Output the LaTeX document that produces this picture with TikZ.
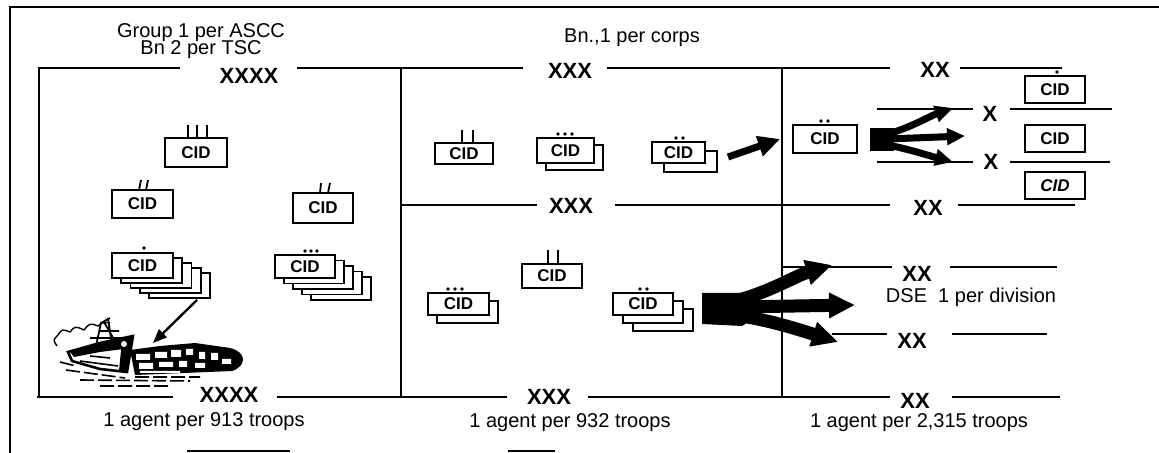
\documentclass[tikz,border=0pt]{standalone}
\usepackage{fontspec}
\setmainfont{Liberation Sans}
\usetikzlibrary{arrows.meta}
\newcommand\cidnode[6][]{%
  \node[cid,#1,minimum width={(#5-#3)*0.5pt},minimum height={(#6-#4)*0.5pt}] (#2) at ({(#3+#5)/2},{(#4+#6)/2}) {CID};}
\newcommand\cidstack[8]{%
  \foreach \k in {#6,...,1}{\draw[boxline,fill=white] ({#2+\k*#7},{#3+\k*#8}) rectangle ({#4+\k*#7},{#5+\k*#8});}
  \cidnode{#1}{#2}{#3}{#4}{#5}}
\begin{document}
\begin{tikzpicture}[x=0.5pt,y=-0.5pt,
  frame/.style={line width=1pt},
  boxline/.style={line width=0.9pt},
  cid/.style={draw,line width=0.9pt,fill=white,inner sep=0pt,font=\fontsize{8.5}{9}\selectfont\bfseries},
  echelon/.style={font=\fontsize{11}{12}\selectfont\bfseries,inner sep=0pt},
  lbl/.style={font=\fontsize{10}{11}\selectfont,inner sep=0pt},
  tick/.style={line width=0.9pt},
  dotmark/.style={fill=black},
  fanbig/.style={line width=6.5pt,-{Triangle[length=13pt,width=12pt]}},
  fansmall/.style={line width=3.5pt,-{Triangle[length=9pt,width=8pt]}},
  thinarrow/.style={line width=1.2pt,-{Triangle[length=7pt,width=5.5pt]}}]
\useasboundingbox (0,0) rectangle (1159,453);

% ---- frames ----
\draw[frame] (1159,7) -- (10,7) -- (10,453);
\draw[frame] (39,397) -- (39,68) -- (180,68);
\draw[frame] (297,68) -- (523,68);
\draw[frame] (607,68) -- (890,68);
\draw[frame] (960,68) -- (1062,68);
\draw[frame] (401,68) -- (401,397);
\draw[frame] (782,68) -- (782,397);
\draw[frame] (401,205) -- (537,205);
\draw[frame] (615,205) -- (890,205);
\draw[frame] (958,205) -- (1075,205);
\draw[frame] (37,397) -- (173,397);
\draw[frame] (277,397) -- (507,397);
\draw[frame] (588,397) -- (890,397);
\draw[frame] (952,397) -- (1060,397);
\draw[frame] (877,109) -- (973,109);
\draw[frame] (1010,109) -- (1112,109);
\draw[frame] (877,162) -- (973,162);
\draw[frame] (1010,162) -- (1110,162);
\draw[frame] (782,267) -- (892,267);
\draw[frame] (950,267) -- (1057,267);
\draw[frame] (832,334) -- (887,334);
\draw[frame] (952,334) -- (1047,334);
% fragments at the bottom edge
\draw[frame] (187,451) -- (290,451);
\draw[frame] (508,451) -- (555,451);

% ---- labels ----
\node[lbl] (grp) at (201,33) {Group 1 per ASCC};
\node[lbl] (bn2) at (201,50) {Bn 2 per TSC};
\node[lbl] (bn1) at (632,38) {Bn.,1 per corps};
\node[echelon] (e4t) at (249,76) {XXXX};
\node[echelon] (e3t) at (570,71) {XXX};
\node[echelon] (e2t) at (935,70) {XX};
\node[echelon] (e3m) at (571,206) {XXX};
\node[echelon] (e2m) at (928,208) {XX};
\node[echelon] (e4b) at (229,395) {XXXX};
\node[echelon] (e3b) at (549,397) {XXX};
\node[echelon] (e2b) at (915,401) {XX};
\node[echelon] (x1) at (990,114) {X};
\node[echelon] (x2) at (991,162) {X};
\node[echelon] (e2d1) at (917,274) {XX};
\node[echelon] (e2d2) at (912,341) {XX};
\node[lbl] (dse) at (971,297) {DSE\ \ 1 per division};
\node[lbl] (a1) at (204,422) {1 agent per 913 troops};
\node[lbl] (a2) at (570,423) {1 agent per 932 troops};
\node[lbl] (a3) at (919,423) {1 agent per 2,315 troops};

% ---- left panel CIDs ----
\cidnode{L1}{165}{138}{227}{167}
\draw[tick] (188,125) -- (188,138) (197,125) -- (197,138) (207,125) -- (207,138);
\cidnode{L2}{112}{190}{173}{218}
\draw[tick] (139,190) -- (141,180) (146,190) -- (148,180);
\cidnode{L3}{293}{193}{353}{223}
\draw[tick] (320,193) -- (321,183) (328,193) -- (330,183);
\cidstack{LS1}{112}{253}{173}{278}{4}{9.25}{5}
\fill[dotmark] (144,248) circle (0.9pt);
\cidstack{LS2}{275}{255}{335}{278}{4}{9}{5.5}
\fill[dotmark] (305,251) circle (0.9pt) (311,251) circle (0.9pt) (317,251) circle (0.9pt);

% ---- middle panel CIDs ----
\cidnode{M1}{435}{143}{493}{164}
\draw[tick] (462,130) -- (462,143) (473,130) -- (473,143);
\cidstack{M2}{537}{138}{594}{163}{1}{9}{7}
\fill[dotmark] (558,134) circle (0.9pt) (565,134) circle (0.9pt) (572,134) circle (0.9pt);
\cidstack{M3}{652}{142}{705}{163}{1}{12}{9}
\fill[dotmark] (676,138) circle (0.9pt) (683,138) circle (0.9pt);
\cidstack{M4}{428}{293}{489}{315}{1}{9}{8}
\fill[dotmark] (448,289) circle (0.9pt) (455,289) circle (0.9pt) (462,289) circle (0.9pt);
\cidnode{M5}{522}{264}{582}{288}
\draw[tick] (548,250) -- (548,264) (558,250) -- (558,264);
\cidstack{M6}{613}{293}{673}{315}{2}{10}{8}
\fill[dotmark] (640,289) circle (0.9pt) (647,289) circle (0.9pt);

% ---- right panel CIDs ----
\cidnode{R1}{793}{125}{857}{153}
\fill[dotmark] (821,121) circle (0.9pt) (828,121) circle (0.9pt);
\cidnode{R2}{1025}{76}{1085}{103}
\fill[dotmark] (1057,72) circle (0.9pt);
\cidnode{R3}{1025}{125}{1085}{152}
\cidnode[font=\fontsize{8.5}{9}\selectfont\bfseries\itshape]{R4}{1025}{172}{1085}{199}

% ---- arrows ----
\coordinate (m3out) at (728,157);
\draw[line width=3.5pt,-{Triangle[length=11pt,width=10pt]}] (m3out) -- ([xshift=-6pt]R1.west);
% small fan from R1
\fill (870,128) rectangle (894,151);
\draw[fansmall] (888,134) .. controls (912,127) and (930,116) .. (953,108);
\draw[fansmall] (888,139) -- (965,136);
\draw[fansmall] (888,145) .. controls (912,150) and (930,156) .. (953,162);
% big fan from M6
\fill (702,293) -- (742,293) -- (755,300) -- (755,318) -- (742,326) -- (702,324) -- cycle;
\draw[fanbig] (735,301) .. controls (770,292) and (795,276) .. (832,265);
\draw[fanbig] (735,307) -- (855,305);
\draw[fanbig] (735,315) .. controls (770,320) and (800,330) .. (838,342);

% ---- ship illustration ----
\coordinate (ship) at (153,343);
\coordinate (ls1out) at (197,300);
\draw[thinarrow] (ls1out) -- (ship);
% smoke / cloud
\draw[line width=0.7pt] (57,346) .. controls (53,340) .. (58,335) .. controls (62,329) .. (70,332)
  .. controls (75,326) .. (84,330) .. controls (90,323) .. (98,326) .. controls (103,322) .. (110,323);
% superstructure
\draw[line width=0.9pt] (96,346) -- (101,323) -- (110,318) (100,331) -- (119,331) (104,322) -- (116,343)
  (108,318) -- (112,345) (90,338) -- (122,338);
% hull
\draw[line width=1.3pt,fill=white] (68,352) -- (100,343) -- (133,336) -- (127,372) -- (100,369) -- (72,361) -- cycle;
\fill (70,352) -- (100,343) -- (133,336) -- (131,348) -- (100,352) -- (74,357) -- cycle;
\fill (122,340) -- (133,336) -- (127,372) -- (119,371) -- cycle;
\fill[white] (124,344) circle (1.5pt);
\draw[line width=0.8pt] (80,361) -- (118,366) (90,356) -- (110,358);
% cargo
\fill (130,350) -- (160,346) -- (195,343) -- (230,348) .. controls (247,352) and (247,366) .. (232,371) -- (135,375) -- cycle;
\fill[white] (136,354) rectangle (150,360) (155,352) rectangle (167,358) (171,350) rectangle (181,357)
  (186,349) rectangle (193,355) (139,363) rectangle (153,369) (159,362) rectangle (173,367)
  (179,361) rectangle (187,367) (199,352) rectangle (205,359) (211,353) rectangle (218,360)
  (195,363) rectangle (205,368) (222,359) rectangle (231,364) (140,371) rectangle (180,373);
% water
\draw[line width=0.8pt,dash pattern=on 7pt off 2pt] (60,362) -- (76,366) (66,370) -- (125,378)
  (80,380) -- (190,381) (100,386) -- (170,386) (135,377) -- (200,377);
\end{tikzpicture}
\end{document}
